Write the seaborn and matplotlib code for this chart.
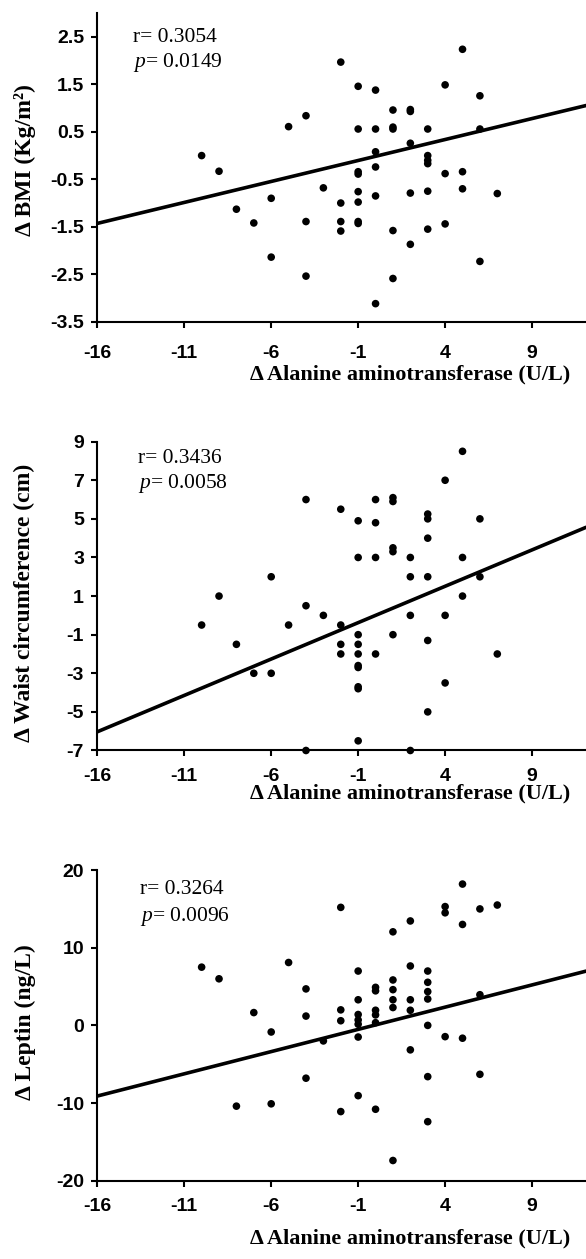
import numpy as np
import pandas as pd
import matplotlib
matplotlib.use("Agg")
import matplotlib.pyplot as plt
import seaborn as sns

# ---------------- data ----------------
alt_bmi = [-10, -9, -8, -7, -6, -6, -5, -4, -4, -4, -3,
           -2, -2, -2, -2,
           -1, -1, -1, -1, -1, -1, -1, -1,
           0, 0, 0, 0, 0, 0,
           1, 1, 1, 1, 1,
           2, 2, 2, 2, 2,
           3, 3, 3, 3, 3, 3,
           4, 4, 4, 5, 5, 5, 6, 6, 6, 7]
bmi = [0.0, -0.33, -1.13, -1.42, -0.90, -2.14, 0.61, 0.84, -1.39, -2.54, -0.68,
       1.97, -1.00, -1.39, -1.59,
       1.46, 0.56, -0.34, -0.39, -0.76, -0.98, -1.39, -1.43,
       1.38, 0.56, 0.08, -0.24, -0.85, -3.12,
       0.96, 0.60, 0.56, -1.58, -2.59,
       0.97, 0.93, 0.26, -0.79, -1.87,
       0.56, 0.00, -0.10, -0.17, -0.75, -1.55,
       1.49, -0.38, -1.44, 2.24, -0.34, -0.70, 1.26, 0.56, -2.23, -0.80]

alt_waist = [-10, -9, -8, -7, -6, -6, -5, -4, -4, -4, -3,
             -2, -2, -2, -2,
             -1, -1, -1, -1, -1, -1, -1, -1, -1, -1,
             0, 0, 0, 0,
             1, 1, 1, 1, 1,
             2, 2, 2, 2,
             3, 3, 3, 3, 3, 3,
             4, 4, 4, 5, 5, 5, 6, 6, 7]
waist = [-0.5, 1.0, -1.5, -3.0, 2.0, -3.0, -0.5, 6.0, 0.5, -7.0, 0.0,
         5.5, -0.5, -1.5, -2.0,
         4.9, 3.0, -1.0, -1.5, -2.0, -2.6, -2.7, -3.7, -3.8, -6.5,
         6.0, 4.8, 3.0, -2.0,
         6.1, 5.9, 3.5, 3.3, -1.0,
         3.0, 2.0, 0.0, -7.0,
         5.25, 5.0, 4.0, 2.0, -1.3, -5.0,
         7.0, 0.0, -3.5, 8.5, 3.0, 1.0, 5.0, 2.0, -2.0]

alt_leptin = [-10, -9, -8, -7, -6, -6, -5, -4, -4, -4, -3,
              -2, -2, -2, -2,
              -1, -1, -1, -1, -1, -1, -1,
              0, 0, 0, 0, 0, 0,
              1, 1, 1, 1, 1, 1,
              2, 2, 2, 2, 2,
              3, 3, 3, 3, 3, 3, 3,
              4, 4, 4, 5, 5, 5, 6, 6, 6, 7]
leptin = [7.5, 6.0, -10.4, 1.65, -0.85, -10.1, 8.1, 4.7, 1.2, -6.8, -2.0,
          15.2, 2.0, 0.6, -11.1,
          7.0, 3.3, 1.4, 0.7, 0.15, -1.5, -9.05,
          4.9, 4.45, 1.95, 1.35, 0.35, -10.8,
          12.05, 5.85, 4.6, 3.3, 2.3, -17.4,
          13.45, 7.65, 3.3, 1.95, -3.15,
          7.0, 5.55, 4.35, 3.4, 0.0, -6.6, -12.4,
          15.3, 14.5, -1.45, 18.2, 13.0, -1.65, 15.0, 3.95, -6.3, 15.5]

# regression lines (slope, intercept)
fit_slope = [0.0884, 0.377, 0.5725]
fit_intercept = [-0.015, 0.0, 0.06]

r_values = ["0.3054", "0.3436", "0.3264"]
p_values = ["0.0149", "0.0058", "0.0096"]

ylabels = ["Δ BMI (Kg/m²)", "Δ Waist circumference (cm)", "Δ Leptin (ng/L)"]
xlabel = "Δ Alanine aminotransferase (U/L)"
xticks = [-16, -11, -6, -1, 4, 9]
yticks_list = [[-3.5, -2.5, -1.5, -0.5, 0.5, 1.5, 2.5],
               [-7, -5, -3, -1, 1, 3, 5, 7, 9],
               [-20, -10, 0, 10, 20]]
ytick_labels = [["-3.5", "-2.5", "-1.5", "-0.5", "0.5", "1.5", "2.5"],
                ["-7", "-5", "-3", "-1", "1", "3", "5", "7", "9"],
                ["-20", "-10", "0", "10", "20"]]
ylims = [(-3.5, 3.0), (-7, 9), (-20, 20)]
xlim = (-16, 12.1)

# ---------------- style ----------------
sns.set_theme(style="ticks")
plt.rcParams["axes.unicode_minus"] = False
plt.rcParams["mathtext.fontset"] = "custom"
plt.rcParams["mathtext.rm"] = "Liberation Serif"
plt.rcParams["mathtext.it"] = "Liberation Serif:italic"

fig = plt.figure(figsize=(5.86, 12.59), dpi=100)

rects = [[0.166, 0.7445, 0.834, 0.245],
         [0.166, 0.4039, 0.834, 0.2453],
         [0.166, 0.0622, 0.834, 0.2467]]
xpads = [12, 8, 8]
xlabel_y = [-0.172, -0.138, -0.185]
ylabel_y = [0.524, 0.478, 0.51]
text_pos = [(0.073, 0.92, 0.839), (0.083, 0.947, 0.866), (0.087, 0.937, 0.85)]

datasets = [(alt_bmi, bmi), (alt_waist, waist), (alt_leptin, leptin)]

for i, (xs, ys) in enumerate(datasets):
    ax = fig.add_axes(rects[i])
    df = pd.DataFrame({"x": xs, "y": ys})
    sns.scatterplot(data=df, x="x", y="y", ax=ax, color="black", s=30,
                    edgecolor="none", linewidth=0, zorder=3, clip_on=False)
    gx = np.array(xlim)
    line_df = pd.DataFrame({"x": gx, "y": fit_intercept[i] + fit_slope[i] * gx})
    sns.lineplot(data=line_df, x="x", y="y", ax=ax, color="black", linewidth=2.6,
                 zorder=2)
    ax.set_xlim(*xlim)
    ax.set_ylim(*ylims[i])
    ax.set_xticks(xticks)
    ax.set_xticklabels([str(t) for t in xticks])
    ax.set_yticks(yticks_list[i])
    ax.set_yticklabels(ytick_labels[i])
    for lab in ax.get_xticklabels() + ax.get_yticklabels():
        lab.set_fontfamily("Liberation Sans")
        lab.set_fontweight("bold")
        lab.set_fontsize(14)
        lab.set_color("black")
    ax.tick_params(axis="x", direction="out", length=4.5, width=1.5, pad=xpads[i],
                   colors="black")
    ax.tick_params(axis="y", direction="out", length=4.5, width=1.5, pad=5,
                   colors="black")
    for side in ["top", "right"]:
        ax.spines[side].set_visible(False)
    for side in ["left", "bottom"]:
        ax.spines[side].set_linewidth(1.5)
        ax.spines[side].set_color("black")
    ax.set_xlabel(xlabel, fontfamily="Liberation Serif", fontweight="bold",
                  fontsize=16, color="black")
    ax.set_ylabel(ylabels[i], fontfamily="Liberation Serif", fontweight="bold",
                  fontsize=17, color="black")
    ax.xaxis.label.set_va("center")
    ax.yaxis.label.set_va("center")
    ax.xaxis.set_label_coords(0.64, xlabel_y[i])
    ax.yaxis.set_label_coords(-0.148, ylabel_y[i])
    ax.grid(False)
    tx, ry, py = text_pos[i]
    ax.text(tx, ry, "r= " + r_values[i], transform=ax.transAxes,
            fontfamily="Liberation Serif", fontsize=15.5, va="center", ha="left",
            color="black")
    ax.text(tx, py, r"$\it{p}$= " + p_values[i], transform=ax.transAxes,
            fontfamily="Liberation Serif", fontsize=15.5, va="center", ha="left",
            color="black")

fig.savefig("out.png", dpi=100)
